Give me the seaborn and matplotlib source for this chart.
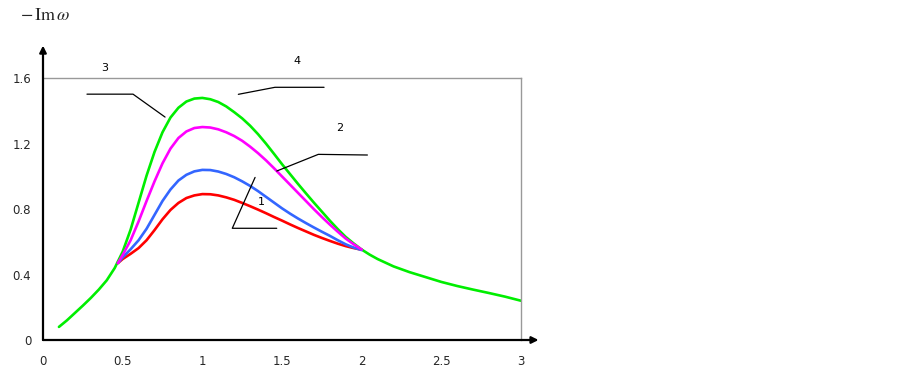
import matplotlib
matplotlib.use("Agg")
import matplotlib.pyplot as plt
import seaborn as sns

# ---- data ----
x_green = [0.1, 0.15, 0.2, 0.25, 0.3, 0.35, 0.4, 0.45, 0.5, 0.55, 0.6, 0.65, 0.7, 0.75, 0.8, 0.85,
           0.9, 0.95, 1.0, 1.05, 1.1, 1.15, 1.2, 1.25, 1.3, 1.35, 1.4, 1.45, 1.5, 1.55, 1.6, 1.65,
           1.7, 1.75, 1.8, 1.85, 1.9, 1.95, 2.0, 2.05, 2.1, 2.2, 2.3, 2.4, 2.5, 2.6, 2.7, 2.8,
           2.9, 3.0]
y_green = [0.08, 0.12, 0.165, 0.21, 0.257, 0.308, 0.365, 0.44, 0.54, 0.675, 0.84, 1.005, 1.15,
           1.27, 1.36, 1.42, 1.458, 1.476, 1.48, 1.472, 1.455, 1.428, 1.393, 1.355, 1.31, 1.258,
           1.2, 1.138, 1.075, 1.015, 0.955, 0.897, 0.84, 0.785, 0.73, 0.678, 0.63, 0.59, 0.553,
           0.522, 0.495, 0.45, 0.415, 0.385, 0.355, 0.33, 0.308, 0.287, 0.265, 0.24]

x_mid = [0.47, 0.5, 0.55, 0.6, 0.65, 0.7, 0.75, 0.8, 0.85, 0.9, 0.95, 1.0, 1.05, 1.1, 1.15,
         1.2, 1.25, 1.3, 1.35, 1.4, 1.45, 1.5, 1.55, 1.6, 1.65, 1.7, 1.75, 1.8, 1.85, 1.9,
         1.95, 2.0]
y_magenta = [0.47, 0.52, 0.61, 0.725, 0.85, 0.97, 1.08, 1.17, 1.235, 1.275, 1.296, 1.302,
             1.299, 1.288, 1.27, 1.247, 1.218, 1.182, 1.142, 1.098, 1.05, 1.0, 0.95, 0.9, 0.85,
             0.8, 0.752, 0.706, 0.662, 0.62, 0.585, 0.553]
y_blue = [0.47, 0.505, 0.555, 0.61, 0.68, 0.765, 0.85, 0.92, 0.975, 1.01, 1.031, 1.04, 1.039,
          1.03, 1.015, 0.995, 0.97, 0.942, 0.91, 0.875, 0.84, 0.805, 0.773, 0.743, 0.715, 0.688,
          0.662, 0.637, 0.61, 0.585, 0.565, 0.55]
y_red = [0.47, 0.495, 0.527, 0.562, 0.61, 0.672, 0.738, 0.795, 0.838, 0.868, 0.884, 0.892,
         0.891, 0.884, 0.872, 0.857, 0.838, 0.818, 0.797, 0.775, 0.752, 0.73, 0.707, 0.685,
         0.664, 0.643, 0.624, 0.606, 0.589, 0.574, 0.562, 0.552]

x_ticks = [0, 0.5, 1, 1.5, 2, 2.5, 3]
x_tick_labels = ["0", "0.5", "1", "1.5", "2", "2.5", "3"]
y_ticks = [0, 0.4, 0.8, 1.2, 1.6]
y_tick_labels = ["0", "0.4", "0.8", "1.2", "1.6"]

curve_labels = ["1", "2", "3", "4"]
label_pos = [(1.368, 0.844), (1.864, 1.296), (0.39, 1.66), (1.594, 1.705)]
leader_x = [[1.331, 1.188, 1.467], [1.467, 1.728, 2.036], [0.276, 0.565, 0.766], [1.226, 1.456, 1.764]]
leader_y = [[0.994, 0.683, 0.683], [1.033, 1.135, 1.131], [1.503, 1.503, 1.363], [1.502, 1.545, 1.545]]

sns.set_style("white")
plt.rcParams['font.family'] = ['DejaVu Sans']
plt.rcParams['mathtext.fontset'] = 'stix'

fig = plt.figure(figsize=(9.02, 3.73), dpi=100)
ax = fig.add_axes([43 / 902, 1 - 340 / 373, (521 - 43) / 902, (340 - 78.3) / 373])

lw = 1.9
kw = dict(ax=ax, lw=lw, sort=False, solid_joinstyle="round", solid_capstyle="round")
sns.lineplot(x=x_mid, y=y_red, color="#ff0000", zorder=3, **kw)
sns.lineplot(x=x_mid, y=y_blue, color="#3366ff", zorder=3, **kw)
sns.lineplot(x=x_mid, y=y_magenta, color="#ff00ff", zorder=3, **kw)
sns.lineplot(x=x_green, y=y_green, color="#00ee00", zorder=2, **kw)

for lx, ly in zip(leader_x, leader_y):
    ax.plot(lx, ly, color="black", lw=0.9, zorder=4)
for t, (px, py) in zip(curve_labels, label_pos):
    ax.text(px, py, t, fontsize=8, ha="center", va="center", color="black")

ax.set_xlim(0, 3)
ax.set_ylim(0, 1.6)
ax.set_xticks(x_ticks)
ax.set_xticklabels(x_tick_labels, fontsize=8.5)
ax.set_yticks(y_ticks)
ax.set_yticklabels(y_tick_labels, fontsize=8.5)
ax.tick_params(axis="both", direction="inout", length=5, width=1.2, color="black", pad=6)
ax.tick_params(axis="x", pad=8)

for s in ["top", "right"]:
    ax.spines[s].set_color("#999999")
    ax.spines[s].set_linewidth(1.0)
for s in ["left", "bottom"]:
    ax.spines[s].set_visible(False)

# axes with arrows
ax.annotate("", xy=(0, 1.80), xytext=(0, 0), xycoords="data",
            arrowprops=dict(arrowstyle="-|>", color="black", lw=1.6, mutation_scale=10,
                            shrinkA=0, shrinkB=0), annotation_clip=False)
ax.annotate("", xy=(3.11, 0), xytext=(0, 0), xycoords="data",
            arrowprops=dict(arrowstyle="-|>", color="black", lw=1.6, mutation_scale=10,
                            shrinkA=0, shrinkB=0), annotation_clip=False)

fig.text(20 / 902, 1 - 15 / 373, r"$-\,\mathrm{Im}\,\omega$", fontsize=13, ha="left", va="center")

fig.savefig("out.png", dpi=100)
